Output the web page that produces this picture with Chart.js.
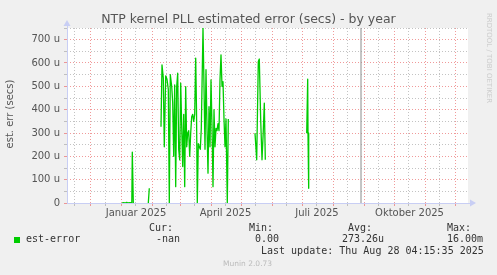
<!DOCTYPE html>
<html><head><meta charset="utf-8">
<script src="https://cdn.jsdelivr.net/npm/chart.js@4/dist/chart.umd.min.js"></script>
<style>
html,body{margin:0;padding:0;background:#f0f0f0;}
#wrap{position:relative;width:497px;height:275px;overflow:hidden;background:#f0f0f0;}
canvas{position:absolute;left:0;top:0;}
.t{position:absolute;white-space:pre;line-height:12px;}
.m{font-family:"DejaVu Sans Mono",monospace;font-size:10px;color:#333;}
</style></head><body>
<div id="wrap">
<canvas id="c" width="497" height="275"></canvas>
<div class="t" id="title" style="left:0;width:497px;text-align:center;top:12px;font-family:'DejaVu Sans';font-size:12.5px;line-height:14px;color:#555;">NTP kernel PLL estimated error (secs) - by year</div>
<div class="t" style="left:10px;top:114px;width:0;height:0;"><div style="position:absolute;left:-60px;top:-6px;width:120px;text-align:center;transform:rotate(-90deg);font-family:'DejaVu Sans';font-size:10px;color:#555;">est. err (secs)</div></div>
<div class="t" style="left:489px;top:58px;width:0;height:0;"><div style="position:absolute;left:-50px;top:-5px;width:100px;text-align:center;transform:rotate(90deg);font-family:'DejaVu Sans';font-size:7px;line-height:10px;color:#ccc;">RRDTOOL / TOBI OETIKER</div></div>
<div style="position:absolute;left:14px;top:237px;width:6px;height:6px;background:#00cc00;"></div>
<div class="t m" style="left:26px;top:233px;">est-error</div>
<div class="t m" style="left:149px;top:222px;">Cur:</div>
<div class="t m" style="left:156px;top:233px;">-nan</div>
<div class="t m" style="left:249px;top:222px;">Min:</div>
<div class="t m" style="left:255px;top:233px;">0.00</div>
<div class="t m" style="left:348px;top:222px;">Avg:</div>
<div class="t m" style="left:342px;top:233px;">273.26u</div>
<div class="t m" style="left:447px;top:222px;">Max:</div>
<div class="t m" style="left:447px;top:233px;">16.00m</div>
<div class="t m" style="left:261px;top:245px;">Last update: Thu Aug 28 04:15:35 2025</div>
<div class="t" style="left:223px;top:258px;font-family:'DejaVu Sans';font-size:7.5px;color:#bbb;">Munin 2.0.73</div>
</div>
<script>
// x values: days relative to 1 Jan 2025; y values in micro-seconds (u)
const segADays = [1, 2, 4, 5.7, 7, 9, 10.8, 11.3, 12.3];
const segAVals = [0, 1, 0, 3, 0, 1, 0, 218, 0];
const segBDays = [27.3, 28.3];
const segBVals = [0, 63];
const segCDays = [40,41,42.3,43.3,44.7,46,47.3,48.3,49.3,50.7,51.7,52.7,53.7,54.7,55.7,56.7,57.7,58.7,59.7,60.7,61.7,62.7,63.7,64.7,65.7,66.7,67.7,68.7,69.7,70.7,71.7,72.7,73.7,74.7,75.5,76.3,77.3,78.3,79.3,80.3,82,83,84,85,86,87,88,89,90,91,92,93,94,95,96,97,98,99,100,101,102,103,104,105,106.3,107.3];
const segCVals = [327,592,535,241,545,530,487,0,550,500,430,200,506,70,500,556,228,185,514,330,156,380,70,499,241,300,310,200,300,370,380,350,380,621,400,0,254,240,230,320,750,500,230,571,320,128,413,241,528,330,70,400,241,320,310,340,310,528,635,500,520,360,241,360,0,360];
const segDDays = [134, 135.7, 137.3, 138.3, 139.7, 141, 142.2, 143.3, 144.3];
const segDVals = [299, 185, 606, 617, 356, 185, 300, 428, 185];
const segEDays = [185.7, 186.7, 187, 187.7];
const segEVals = [299, 531, 299, 63];
const nowDay = 240;
const monthStarts = [-31, 0, 31, 59, 90, 120, 151, 181, 212, 243, 273, 304, 334];
const minorDays = [-47, -16, 14, 45, 73, 104, 134, 165, 195, 226, 257, 287, 318];
const labelDays = [15, 104.5, 196, 288.5];
const labelTexts = ['Januar 2025', 'April 2025', 'Juli 2025', 'Oktober 2025'];
const yTicks = [0,50,100,150,200,250,300,350,400,450,500,550,600,650,700,750];

function seg(days, vals){ return days.map((d,i)=>({x:d,y:vals[i]})); }
const gap = {x:null,y:null};
const pts = [].concat(
  seg(segADays,segAVals),[{x:20,y:null}],
  seg(segBDays,segBVals),[{x:35,y:null}],
  seg(segCDays,segCVals),[{x:120,y:null}],
  seg(segDDays,segDVals),[{x:160,y:null}],
  seg(segEDays,segEVals));

const RED='rgba(235,120,120,0.75)', GREY='rgba(170,170,170,0.7)';
function xKind(v){
  if (monthStarts.includes(v)) return 'major';
  if (minorDays.includes(v)) return 'minor';
  return 'label';
}
const xTickVals = [].concat(monthStarts, minorDays.filter(v=>!labelDays.includes(v)), labelDays).sort((a,b)=>a-b);

const arrows = {
  id:'arrows',
  afterDraw(chart){
    const {ctx, chartArea:a} = chart;
    ctx.save();
    ctx.fillStyle='#c8cef4';
    ctx.beginPath(); ctx.moveTo(a.left-3.5,a.top-2); ctx.lineTo(a.left+3.5,a.top-2); ctx.lineTo(a.left,a.top-8); ctx.closePath(); ctx.fill();
    ctx.beginPath(); ctx.moveTo(a.right+2,a.bottom-3.5); ctx.lineTo(a.right+2,a.bottom+3.5); ctx.lineTo(a.right+8,a.bottom); ctx.closePath(); ctx.fill();
    ctx.strokeStyle='#c8cef4'; ctx.lineWidth=1;
    ctx.beginPath(); ctx.moveTo(a.left+0.5,a.bottom); ctx.lineTo(a.left+0.5,a.top-3); ctx.stroke();
    ctx.beginPath(); ctx.moveTo(a.left,a.bottom+0.5); ctx.lineTo(a.right+3,a.bottom+0.5); ctx.stroke();
    ctx.restore();
  }
};
const bg = {
  id:'bg',
  beforeDraw(chart){
    const {ctx, chartArea:a} = chart;
    ctx.save(); ctx.fillStyle='#ffffff'; ctx.fillRect(a.left,a.top,a.right-a.left,a.bottom-a.top); ctx.restore();
  }
};

new Chart(document.getElementById('c'), {
  type:'line',
  data:{datasets:[
    {data:pts, borderColor:'#00cc00', borderWidth:1.3, pointRadius:0, tension:0, spanGaps:false, borderJoinStyle:'round'},
    {data:[{x:nowDay,y:0},{x:nowDay,y:750}], borderColor:'#8a8a8a', borderWidth:1, pointRadius:0}
  ]},
  options:{
    responsive:false, animation:false, devicePixelRatio:1,
    layout:{padding:{left:0,top:28,right:29,bottom:0}},
    plugins:{legend:{display:false}, tooltip:{enabled:false}, title:{display:false}},
    scales:{
      x:{type:'linear', min:-54, max:347,
        afterFit(s){ s.height = 72; },
        afterBuildTicks(s){ s.ticks = xTickVals.map(v=>({value:v})); },
        ticks:{autoSkip:false, maxRotation:0, minRotation:0, padding:1, color:'#555', font:{family:'DejaVu Sans', size:10},
          callback(v){ const i = labelDays.indexOf(v); return i>=0 ? labelTexts[i] : ''; }},
        grid:{drawTicks:true, tickLength:3,
          color(c){ const k=xKind(c.tick.value); return k==='major'?RED:(k==='minor'?GREY:'rgba(0,0,0,0)'); },
          tickColor(c){ const k=xKind(c.tick.value); return k==='major'?RED:(k==='minor'?GREY:'rgba(0,0,0,0)'); },
          lineWidth:1},
        border:{display:false, dash:[1,2]}
      },
      y:{min:0, max:750,
        afterFit(s){ s.width = 67; },
        afterBuildTicks(s){ s.ticks = yTicks.map(v=>({value:v})); },
        ticks:{autoSkip:false, padding:4, color:'#555', font:{family:'DejaVu Sans', size:10},
          callback(v){ if (v%100!==0) return ''; return v===0?'0':v+' u'; }},
        grid:{drawTicks:true, tickLength:3,
          color(c){ return c.tick.value%100===0?RED:GREY; },
          tickColor(c){ return c.tick.value%100===0?RED:GREY; }, lineWidth:1},
        border:{display:false, dash:[1,2]}
      }
    }
  },
  plugins:[bg, arrows]
});
</script>
</body></html>
